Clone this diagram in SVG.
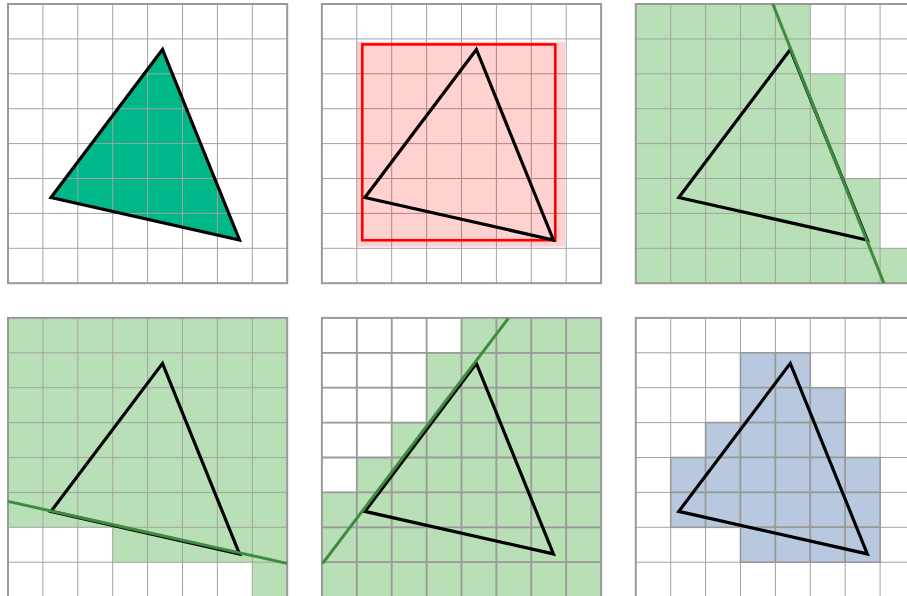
<svg xmlns="http://www.w3.org/2000/svg" xmlns:xlink="http://www.w3.org/1999/xlink" width="907" height="596" viewBox="0 0 907 596">
<style>
.tri{fill:none;stroke:#000;stroke-width:3.2;stroke-linejoin:miter}
.edge{stroke:#3d8b40;stroke-width:3;fill:none;stroke-linecap:butt}
.gfill{fill:#b8dfb5}
</style>
<defs>
<g id="grid">
<path d="M34.9,0V279.2M69.8,0V279.2M104.7,0V279.2M139.6,0V279.2M174.5,0V279.2M209.4,0V279.2M244.3,0V279.2M0,34.9H279.2M0,69.8H279.2M0,104.7H279.2M0,139.6H279.2M0,174.5H279.2M0,209.4H279.2M0,244.3H279.2" stroke="#a3a3a3" stroke-width="1" fill="none"/>
<rect width="279.2" height="279.2" fill="none" stroke="#999" stroke-width="2"/>
</g>
<rect id="cb" width="34.9" height="34.9" fill="#b8c9df" stroke="#999" stroke-width="1.6"/>
</defs>

<g id="panel1" transform="translate(8,4)">
<polygon points="154.5,45.5 43,193.5 231.5,236" fill="#00b789"/>
<use xlink:href="#grid"/>
<polygon class="tri" points="154.5,45.5 43,193.5 231.5,236"/>
</g>

<g id="panel2" transform="translate(321.9,4)">
<use xlink:href="#grid"/>
<rect x="34.8" y="37.7" width="208.3" height="205" fill="#ff0000" fill-opacity="0.18"/>
<rect x="40.4" y="40.4" width="193" height="195.8" fill="none" stroke="#ff0000" stroke-width="2.6"/>
<polygon class="tri" points="154.5,45.5 43,193.5 231.5,236"/>
</g>

<g id="panel3" transform="translate(635.8,4)">
<path class="gfill" d="M0,0H174.5V69.8H209.4V174.5H244.3V244.3H279.2V279.2H0Z"/>
<use xlink:href="#grid"/>
<polygon class="tri" points="154.5,45.5 43,193.5 231.5,236"/>
<line class="edge" x1="137" y1="0" x2="248" y2="279"/>
</g>

<g id="panel4" transform="translate(8,317.9)">
<path class="gfill" d="M0,0H279.2V279.2H244.3V244.3H104.7V209.4H0Z"/>
<use xlink:href="#grid"/>
<polygon class="tri" points="154.5,45.5 43,193.5 231.5,236"/>
<line class="edge" x1="0" y1="183.5" x2="279" y2="245.5"/>
</g>

<g id="panel5" transform="translate(321.9,317.9)">
<path class="gfill" d="M139.6,0H279.2V279.2H0V174.5H34.9V139.6H69.8V104.7H104.7V34.9H139.6Z"/>
<use xlink:href="#grid"/>
<path d="M34.9,0V279.2M69.8,0V279.2M104.7,0V279.2M139.6,0V279.2M174.5,0V279.2M209.4,0V279.2M244.3,0V279.2M0,34.9H279.2M0,69.8H279.2M0,104.7H279.2M0,139.6H279.2M0,174.5H279.2M0,209.4H279.2M0,244.3H279.2" stroke="#9a9a9a" stroke-width="1.8" fill="none"/>
<polygon class="tri" points="154.5,45.5 43,193.5 231.5,236"/>
<line class="edge" x1="0.8" y1="245.4" x2="186.4" y2="0.5"/>
</g>

<g id="panel6" transform="translate(635.8,317.9)">
<use xlink:href="#grid"/>
<use xlink:href="#cb" x="104.7" y="34.9"/><use xlink:href="#cb" x="139.6" y="34.9"/>
<use xlink:href="#cb" x="104.7" y="69.8"/><use xlink:href="#cb" x="139.6" y="69.8"/><use xlink:href="#cb" x="174.5" y="69.8"/>
<use xlink:href="#cb" x="69.8" y="104.7"/><use xlink:href="#cb" x="104.7" y="104.7"/><use xlink:href="#cb" x="139.6" y="104.7"/><use xlink:href="#cb" x="174.5" y="104.7"/>
<use xlink:href="#cb" x="34.9" y="139.6"/><use xlink:href="#cb" x="69.8" y="139.6"/><use xlink:href="#cb" x="104.7" y="139.6"/><use xlink:href="#cb" x="139.6" y="139.6"/><use xlink:href="#cb" x="174.5" y="139.6"/><use xlink:href="#cb" x="209.4" y="139.6"/>
<use xlink:href="#cb" x="34.9" y="174.5"/><use xlink:href="#cb" x="69.8" y="174.5"/><use xlink:href="#cb" x="104.7" y="174.5"/><use xlink:href="#cb" x="139.6" y="174.5"/><use xlink:href="#cb" x="174.5" y="174.5"/><use xlink:href="#cb" x="209.4" y="174.5"/>
<use xlink:href="#cb" x="104.7" y="209.4"/><use xlink:href="#cb" x="139.6" y="209.4"/><use xlink:href="#cb" x="174.5" y="209.4"/><use xlink:href="#cb" x="209.4" y="209.4"/>
<polygon class="tri" points="154.5,45.5 43,193.5 231.5,236"/>
</g>

<g id="connectors"></g>
</svg>
